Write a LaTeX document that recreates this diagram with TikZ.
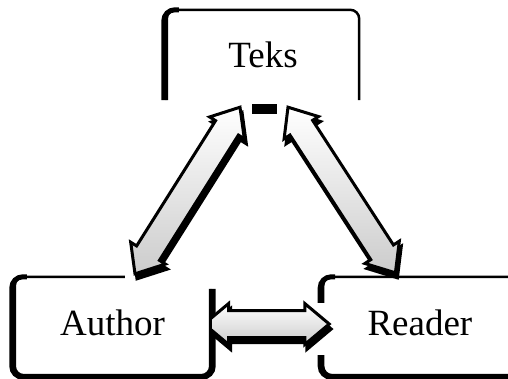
\documentclass[tikz,border=0pt]{standalone}
\usepackage{fontspec}
\setmainfont{Liberation Serif}
\usetikzlibrary{positioning,calc,shapes.arrows}

\tikzset{
  box/.style={rectangle, minimum width=195pt, minimum height=98pt, inner sep=0pt,
              font=\fontsize{37}{44}\selectfont},
  rim/.style={draw=black, line width=2.5pt, rounded corners=9pt},
  rimshade/.style={draw=black, line width=5pt, rounded corners=11pt},
  blockarrow/.style={double arrow, double arrow tip angle=80, double arrow head extend=7pt,
                     inner xsep=0pt, inner ysep=12pt, draw=black, line width=3pt},
  arrowbody/.style={blockarrow, top color=white, bottom color=black!20},
  arrowshade/.style={blockarrow, fill=black},
}

% block arrow between two named points, with its shadow
\newcommand{\linkarrow}[2]{%
  \path let \p1=($(#2)-(#1)$), \n1={atan2(\y1,\x1)}, \n2={veclen(\x1,\y1)} in
    node[arrowshade, rotate=\n1, minimum height=\n2] at ($(#1)!0.5!(#2)+(2,5)$) {}
    node[arrowbody, rotate=\n1, minimum height=\n2] at ($(#1)!0.5!(#2)$) {};}

\begin{document}
\begin{tikzpicture}[x=1pt, y=-1pt]
  \useasboundingbox (0,0) rectangle (508,378);

  \node[box, minimum width=192pt, minimum height=90pt] (teks) at (263,55) {Teks};
  \node[box, text depth=6pt] (author) at (112.5,326) {Author};
  \node[box, text depth=6pt, minimum width=193pt] (reader) [right=113pt of author] {Reader};

  % Teks box, open at the bottom
  \draw[rim] (teks.south west) -- (teks.north west) -- (teks.north east) -- (teks.south east);
  \draw[rimshade] ([xshift=-3pt]teks.south west) -- ([xshift=-3pt]teks.north west)
                  -- ([xshift=12pt]teks.north west);
  \fill ([shift={(-11,4)}]teks.south) rectangle ([shift={(14,14)}]teks.south);

  % Author box
  \draw[rim] ([xshift=110pt]author.north west) -- (author.north west) -- (author.south west)
             -- (author.south east) -- ([yshift=-12pt]author.north east);
  \draw[rimshade] ([xshift=12pt]author.north west) -- ([xshift=-3pt]author.north west)
                  -- ([xshift=-3pt,yshift=-2pt]author.south west)
                  -- ([xshift=3pt,yshift=-2pt]author.south east)
                  -- ([xshift=3pt,yshift=-12pt]author.north east);

  % Reader box
  \draw[rim] ([xshift=20pt]reader.north east) -- (reader.north west) -- ([yshift=-26pt]reader.north west);
  \draw[rim] ([yshift=20pt]reader.south west) -- (reader.south west) -- ([xshift=20pt]reader.south east);
  \draw[rimshade] ([xshift=12pt]reader.north west) -- ([xshift=-3pt]reader.north west)
                  -- ([xshift=-3pt,yshift=-26pt]reader.north west);
  \draw[rimshade] ([xshift=-3pt,yshift=20pt]reader.south west) -- ([xshift=-3pt,yshift=-2pt]reader.south west)
                  -- ([xshift=20pt,yshift=-2pt]reader.south east);

  % arrow ends
  \coordinate (tl) at ([shift={(-23,7)}]teks.south);
  \coordinate (tr) at ([shift={(25,7)}]teks.south);
  \coordinate (al) at ([shift={(22.5,-3)}]author.north);
  \coordinate (rl) at ([shift={(-24.5,-4)}]reader.north);
  \coordinate (ah) at ([shift={(-6,-2)}]author.east);
  \coordinate (rh) at ([shift={(6,-2)}]reader.west);

  \linkarrow{al}{tl}
  \linkarrow{tr}{rl}
  \begin{scope}
    \clip ([xshift=2pt]author.south east) rectangle ([xshift=20pt]reader.north west);
    \linkarrow{ah}{rh}
  \end{scope}
\end{tikzpicture}
\end{document}
